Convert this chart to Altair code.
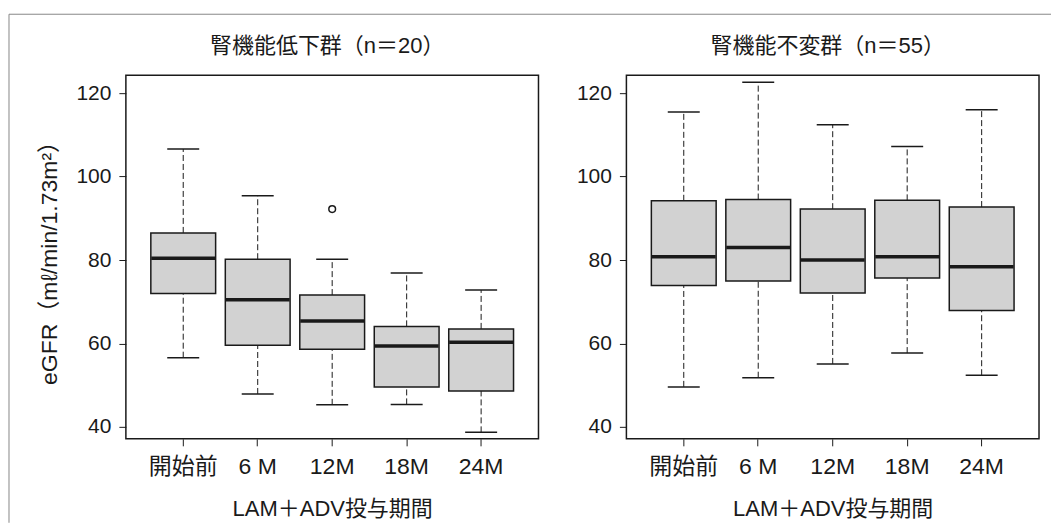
import altair as alt
import pandas as pd

categories = ["開始前", "6 M", "12M", "18M", "24M"]

# 腎機能低下群 (n=20)
low_lower = [56.6, 47.9, 45.3, 45.4, 38.7]
low_q1 = [72.0, 59.6, 58.6, 49.6, 48.6]
low_median = [80.4, 70.5, 65.4, 59.4, 60.3]
low_q3 = [86.5, 80.2, 71.6, 64.1, 63.5]
low_upper = [106.6, 95.4, 80.2, 76.9, 72.8]
low_out_cat = ["12M"]
low_out_val = [92.2]

# 腎機能不変群 (n=55)
st_lower = [49.6, 51.8, 55.1, 57.7, 52.4]
st_q1 = [73.9, 75.0, 72.1, 75.7, 67.9]
st_median = [80.8, 83.0, 80.0, 80.8, 78.4]
st_q3 = [94.2, 94.5, 92.2, 94.3, 92.7]
st_upper = [115.5, 122.6, 112.4, 107.2, 116.0]

titles = ["腎機能低下群（n＝20）", "腎機能不変群（n＝55）"]
y_title = "eGFR（mℓ/min/1.73m²）"
x_title = "LAM＋ADV投与期間"
y_ticks = [40, 60, 80, 100, 120]

FONT = "Liberation Sans, Arial, Noto Sans CJK JP, sans-serif"
W, H = 413, 364
INK = "#1a1a1a"


def panel(title, lower, q1, med, q3, upper, out_cat, out_val, show_ytitle, frame):
    df = pd.DataFrame({"cat": categories, "lower": lower, "q1": q1,
                       "median": med, "q3": q3, "upper": upper})
    xenc = alt.X("cat:N", sort=categories,
                 scale=alt.Scale(paddingInner=0, paddingOuter=0.27),
                 axis=alt.Axis(title=x_title, labelAngle=0, labelFontSize=23,
                               titleFontSize=22, titleFontWeight="normal",
                               labelPadding=10, titlePadding=20, tickSize=7,
                               domain=False, tickColor=INK, labelColor=INK,
                               titleColor=INK))
    yaxis = alt.Axis(title=y_title if show_ytitle else None, values=y_ticks,
                     labelFontSize=21, titleFontSize=23, titleFontWeight="normal",
                     labelPadding=8, titlePadding=14, tickSize=7, grid=False,
                     domain=False, tickColor=INK, labelColor=INK, titleColor=INK)
    yscale = alt.Scale(domain=[37.15, 124.3], nice=False, zero=False)

    base = alt.Chart(df)
    whisk_hi = base.mark_rule(strokeDash=[6, 3], strokeWidth=1, color=INK).encode(
        x=xenc, y=alt.Y("q3:Q", scale=yscale, axis=yaxis), y2="upper:Q")
    whisk_lo = base.mark_rule(strokeDash=[6, 3], strokeWidth=1, color=INK).encode(
        x=xenc, y=alt.Y("lower:Q", scale=yscale, axis=yaxis), y2="q1:Q")
    box = base.mark_bar(width=alt.RelativeBandSize(0.87), fill="#d2d2d2",
                        stroke=INK, strokeWidth=1.5).encode(
        x=xenc, y=alt.Y("q1:Q", scale=yscale, axis=yaxis), y2="q3:Q")
    medl = base.mark_tick(size=64, thickness=3.5, color=INK, opacity=1).encode(
        x=xenc, y=alt.Y("median:Q", scale=yscale, axis=yaxis))
    cap_hi = base.mark_tick(size=32, thickness=1.5, color=INK, opacity=1).encode(
        x=xenc, y=alt.Y("upper:Q", scale=yscale, axis=yaxis))
    cap_lo = base.mark_tick(size=32, thickness=1.5, color=INK, opacity=1).encode(
        x=xenc, y=alt.Y("lower:Q", scale=yscale, axis=yaxis))
    layers = [whisk_hi, whisk_lo, box, medl, cap_hi, cap_lo]
    if out_cat:
        odf = pd.DataFrame({"cat": out_cat, "val": out_val})
        layers.append(alt.Chart(odf).mark_point(shape="circle", filled=False,
                                                size=45, stroke=INK,
                                                strokeWidth=1.5, opacity=1).encode(
            x=xenc, y=alt.Y("val:Q", scale=yscale, axis=yaxis)))
    one = pd.DataFrame({"k": [0]})
    # panel title as a text mark above the plot frame
    layers.append(alt.Chart(one).mark_text(fontSize=22, align="center",
                                           baseline="middle", color=INK).encode(
        x=alt.value(W / 2 - 5), y=alt.value(-29), text=alt.value(title)))
    if frame:
        layers.append(alt.Chart(one).mark_rule(color="#888", strokeWidth=1).encode(
            x=alt.value(-117), x2=alt.value(926), y=alt.value(-61)))
        layers.append(alt.Chart(one).mark_rule(color="#888", strokeWidth=1).encode(
            x=alt.value(-117), y=alt.value(-61), y2=alt.value(448)))
    return alt.layer(*layers).properties(width=W, height=H)


left = panel(titles[0], low_lower, low_q1, low_median, low_q3, low_upper,
             low_out_cat, low_out_val, True, True)
right = panel(titles[1], st_lower, st_q1, st_median, st_q3, st_upper,
              [], [], False, False)

chart = alt.hconcat(left, right, spacing=88, bounds="flush").properties(
    padding={"left": 7, "top": 12, "right": 0, "bottom": 0}
).configure(font=FONT).configure_view(stroke=INK, strokeWidth=1.5)

chart.save("out.html", embed_options={"renderer": "svg", "actions": False})
